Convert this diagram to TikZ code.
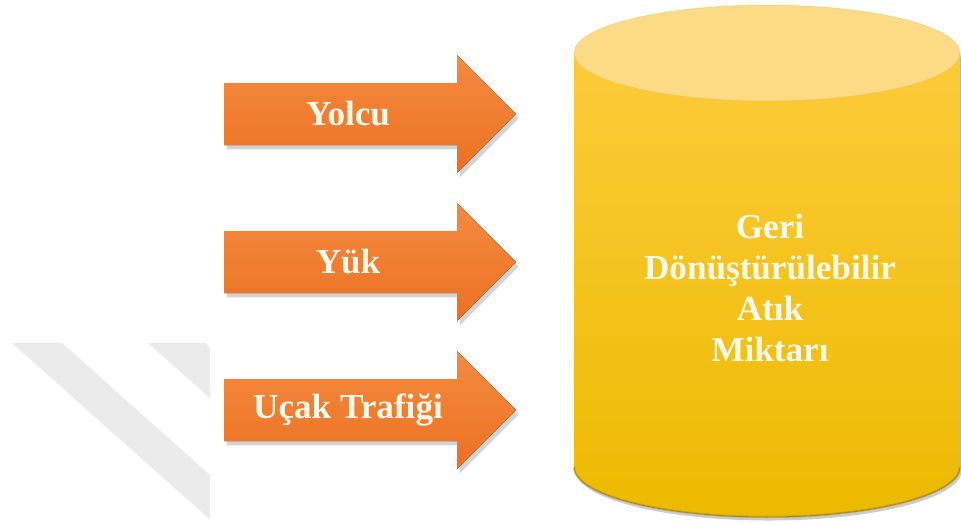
\documentclass[tikz,border=0pt]{standalone}
\usepackage{fontspec}
\setmainfont{Liberation Serif}
\usetikzlibrary{shadows}
\definecolor{arrowTop}{HTML}{F48A40}
\definecolor{arrowBot}{HTML}{EC7122}
\definecolor{cylTop}{HTML}{FDCB3A}
\definecolor{cylBot}{HTML}{ECBA00}
\definecolor{cylLid}{HTML}{FCDA86}
\definecolor{cylRim}{HTML}{9C7A08}
\definecolor{labelWhite}{HTML}{FFF9EC}
\definecolor{markGray}{HTML}{EBEBEB}
\tikzset{
	arrowfill/.style={top color=arrowTop, bottom color=arrowBot,
		drop shadow={opacity=0.35, shadow xshift=1.5pt, shadow yshift=-2.5pt}},
	arrowtext/.style={text=labelWhite, font=\fontsize{20}{23.4}\selectfont\bfseries},
}
% #1 = centre y, #2 = node name, #3 = text
\def\flowarrow(#1)#2#3{
	\fill[arrowfill] (224,#1+31) -- (457,#1+31) -- (457,#1+59) -- (516,#1)
		-- (457,#1-59) -- (457,#1-31) -- (224,#1-31) -- cycle;
	\node[arrowtext] (#2) at (348,#1) {#3};
}

\begin{document}
\begin{tikzpicture}[x=0.02cm, y=0.02cm]
			%%%%% START %%%%%
			\useasboundingbox (0,0) rectangle (961,-524);
			
			% faint marks on the left
			\begin{scope}
				\clip (0,-343) rectangle (210,-524);
				\fill[markGray] (12,-343) -- (62,-343) -- (265,-524) -- (215,-524) -- cycle;
				\fill[markGray] (148,-343) -- (205,-343) -- (408,-524) -- (351,-524) -- cycle;
			\end{scope}
			
			\flowarrow(-114){passenger}{Yolcu}
			\flowarrow(-262){cargo}{Yük}
			\flowarrow(-410){traffic}{Uçak Trafiği}
			
			% cylinder
			\fill[top color=cylTop, bottom color=cylBot,
				drop shadow={opacity=0.4, shadow xshift=1pt, shadow yshift=-2pt}]
				(574,-53) -- (574,-467) arc[start angle=180, end angle=360, x radius=193, y radius=50]
				-- (960,-53) -- cycle;
			\draw[cylRim, line width=1.2pt, opacity=0.45]
				(574,-467) arc[start angle=180, end angle=360, x radius=193, y radius=50];
			\fill[cylLid] (767,-53) ellipse[x radius=193, y radius=48];
			\draw[cylTop!90!black, opacity=0.3] (767,-53) ellipse[x radius=193, y radius=48];
			
			\node[arrowtext, align=center] (waste) at (770,-288)
				{Geri\\Dönüştürülebilir\\Atık\\Miktarı};
			
			%%%%% END %%%%%
\end{tikzpicture}
\end{document}
